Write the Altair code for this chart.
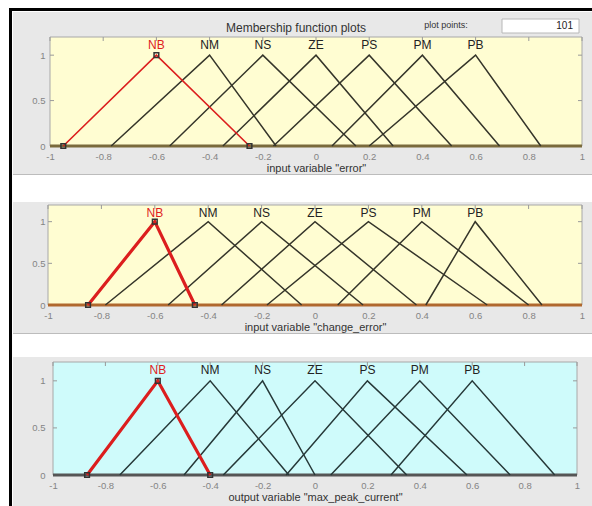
import altair as alt
import pandas as pd

# Membership function names (shared by all three variables)
mf_names = ["NB", "NM", "NS", "ZE", "PS", "PM", "PB"]

# input variable "error": triangle feet and peaks
error_left = [-0.95, -0.77, -0.55, -0.35, -0.16, 0.06, 0.20]
error_peak = [-0.60, -0.40, -0.20, 0.00, 0.20, 0.40, 0.60]
error_right = [-0.25, -0.15, 0.15, 0.29, 0.51, 0.69, 0.845]

# input variable "change_error"
cerror_left = [-0.85, -0.785, -0.55, -0.35, -0.18, 0.085, 0.415]
cerror_peak = [-0.60, -0.40, -0.20, 0.00, 0.20, 0.40, 0.60]
cerror_right = [-0.45, -0.05, 0.18, 0.38, 0.645, 0.80, 0.85]

# output variable "max_peak_current"
current_left = [-0.87, -0.745, -0.50, -0.35, -0.11, 0.06, 0.29]
current_peak = [-0.60, -0.40, -0.20, 0.00, 0.20, 0.40, 0.60]
current_right = [-0.40, -0.10, 0.00, 0.35, 0.58, 0.745, 0.915]

x_ticks = [-1, -0.8, -0.6, -0.4, -0.2, 0, 0.2, 0.4, 0.6, 0.8, 1]
y_ticks = [0, 0.5, 1]
selected_mf = "NB"
plot_points = "101"

FONT = "Liberation Sans"
PAGE_W = 592
ORIGIN_X = 50          # left edge of every panel's view
VIEW_W = 532
PANEL_GREY = "#e8e8e8"


def one_row():
    return pd.DataFrame({"k": [0]})


def pix_rect(x0, x1, y0, y1, fill):
    return alt.Chart(one_row()).mark_rect(fill=fill, strokeWidth=0).encode(
        x=alt.value(x0), x2=alt.value(x1), y=alt.value(y0), y2=alt.value(y1)
    )


def panel(left, peak, right, title, x_range, height, top, frame, segment,
          plot_fill, line_color, base_color, nb_width, header=False):
    ox, oy = ORIGIN_X, top
    xs = alt.Scale(domain=[-1, 1], nice=False, zero=False, range=list(x_range))
    ys = alt.Scale(domain=[0, 1.2], nice=False, zero=False)
    x_axis = alt.Axis(
        values=x_ticks, labelExpr="'' + datum.value", title=title,
        grid=False, domain=False, ticks=False, labelFlush=False,
        labelOverlap=False, labelPadding=5, labelFontSize=9.5,
        labelColor="#848484", labelFont=FONT, titleFont=FONT,
        titleFontSize=11, titleFontWeight="normal", titleColor="#333333",
        titlePadding=2, zindex=1)
    y_axis = alt.Axis(
        values=y_ticks, labelExpr="'' + datum.value", title=None,
        grid=False, domain=False, ticks=False, labelFlush=False,
        labelOverlap=False, labelPadding=5, labelFontSize=9.5,
        labelColor="#848484", labelFont=FONT, zindex=1)

    def X(field="x"):
        return alt.X(f"{field}:Q", scale=xs, axis=x_axis, title=title)

    def Y(field="y"):
        return alt.Y(f"{field}:Q", scale=ys, axis=y_axis, title=None)

    rows = []
    for name, a, b, c in zip(mf_names, left, peak, right):
        for i, (px, py) in enumerate([(a, 0), (b, 1), (c, 0)]):
            rows.append({"mf": name, "ord": i, "x": px, "y": py})
    tri = pd.DataFrame(rows)
    others = tri[tri.mf != selected_mf]
    sel = tri[tri.mf == selected_mf]
    labels = pd.DataFrame({"mf": mf_names, "x": peak, "y": [1.11] * len(peak)})

    seg0, seg1 = segment[0] - oy, segment[1] - oy
    fr0, fr1 = frame[0] - oy, frame[1] - oy
    L, R = -ox, PAGE_W - ox

    layers = []
    # white page around the grey panel, black window edge on the left
    layers.append(pix_rect(L, 13 - ox, seg0, seg1, "#ffffff"))
    if fr0 > seg0:
        layers.append(pix_rect(L, R, seg0, fr0, "#ffffff"))
    if fr1 < seg1:
        layers.append(pix_rect(L, R, fr1, seg1, "#ffffff"))
        layers.append(pix_rect(13 - ox, R, fr1 - 1, fr1, "#bcbcbc"))
    layers.append(pix_rect(9 - ox, 12 - ox, seg0 + (8 if header else 0), seg1, "#000000"))
    if header:
        layers.append(pix_rect(9 - ox, R, 8 - oy, 11 - oy, "#000000"))

    # plot area background carrying the axes
    bg = pd.DataFrame({"x": [-1], "x2": [1], "y": [0], "y2": [1.2]})
    layers.append(
        alt.Chart(bg).mark_rect(fill=plot_fill, stroke="#a8a8a8", strokeWidth=1).encode(
            x=X(), x2="x2:Q", y=Y(), y2="y2:Q")
    )

    # small inward ticks on the box edges
    xt = pd.DataFrame({"x": x_ticks})
    yt = pd.DataFrame({"y": y_ticks})
    tick_style = dict(color="#9a9a9a", strokeWidth=1)
    layers.append(alt.Chart(xt).mark_rule(**tick_style).encode(
        x=X(), y=alt.value(0), y2=alt.value(4)))
    layers.append(alt.Chart(yt).mark_rule(**tick_style).encode(
        y=Y(), x=alt.value(x_range[1] - 4), x2=alt.value(x_range[1])))
    layers.append(alt.Chart(yt).mark_rule(**tick_style).encode(
        y=Y(), x=alt.value(x_range[0]), x2=alt.value(x_range[0] + 4)))

    # zero level shared by every membership function
    base = pd.DataFrame({"x": [-1], "x2": [1], "y": [0]})
    layers.append(alt.Chart(base).mark_rule(color=base_color, strokeWidth=3).encode(
        x=X(), x2="x2:Q", y=Y()))

    layers.append(alt.Chart(others).mark_line(color=line_color, strokeWidth=1.5).encode(
        x=X(), y=Y(), detail="mf:N", order="ord:Q"))
    layers.append(alt.Chart(sel).mark_line(color="#dc1e1e", strokeWidth=nb_width).encode(
        x=X(), y=Y(), order="ord:Q"))
    layers.append(alt.Chart(sel).mark_point(shape="square", filled=False, size=22,
                                            color="#333333", strokeWidth=1.5, opacity=1).encode(
        x=X(), y=Y()))

    layers.append(alt.Chart(labels).mark_text(font=FONT, fontSize=12, baseline="middle").encode(
        x=X(), y=Y(), text="mf:N",
        color=alt.condition(alt.datum.mf == selected_mf, alt.value("#e01e1e"),
                            alt.value("#222222"))))

    if header:
        layers.append(alt.Chart(one_row()).mark_text(
            font=FONT, fontSize=12, color="#333333", align="center", baseline="middle",
            text="Membership function plots").encode(
            x=alt.value(296 - ox), y=alt.value(28 - oy)))
        layers.append(alt.Chart(one_row()).mark_text(
            font=FONT, fontSize=9, color="#333333", align="center", baseline="middle",
            text="plot points:").encode(
            x=alt.value(446 - ox), y=alt.value(25 - oy)))
        layers.append(alt.Chart(one_row()).mark_rect(
            fill="#ffffff", stroke="#b8b8b8", strokeWidth=1).encode(
            x=alt.value(502 - ox), x2=alt.value(579 - ox),
            y=alt.value(19 - oy), y2=alt.value(33 - oy)))
        layers.append(alt.Chart(one_row()).mark_text(
            font=FONT, fontSize=10, color="#222222", align="right", baseline="middle",
            text=plot_points).encode(
            x=alt.value(573 - ox), y=alt.value(26 - oy)))

    return alt.layer(*layers).properties(width=VIEW_W, height=height)


p1 = panel(error_left, error_peak, error_right, 'input variable "error"',
           (0, 532), 109, 37, (12, 175), (0, 189),
           "#fffdd2", "#35352a", "#7a6a3c", 1.6, header=True)
p2 = panel(cerror_left, cerror_peak, cerror_right, 'input variable "change_error"',
           (-2, 532), 100, 205, (202, 334), (189, 345),
           "#fffdd2", "#35352a", "#b0682e", 3.2)
p3 = panel(current_left, current_peak, current_right, 'output variable "max_peak_current"',
           (3, 527), 113, 362, (357, 506), (345, 506),
           "#cffbfb", "#263838", "#555555", 3.2)

chart = alt.vconcat(p1, p2, p3, spacing=0).properties(
    padding=0,
    background=PANEL_GREY,
).configure_view(stroke=None)

chart.save("out.html", embed_options={"renderer": "svg", "actions": False})
